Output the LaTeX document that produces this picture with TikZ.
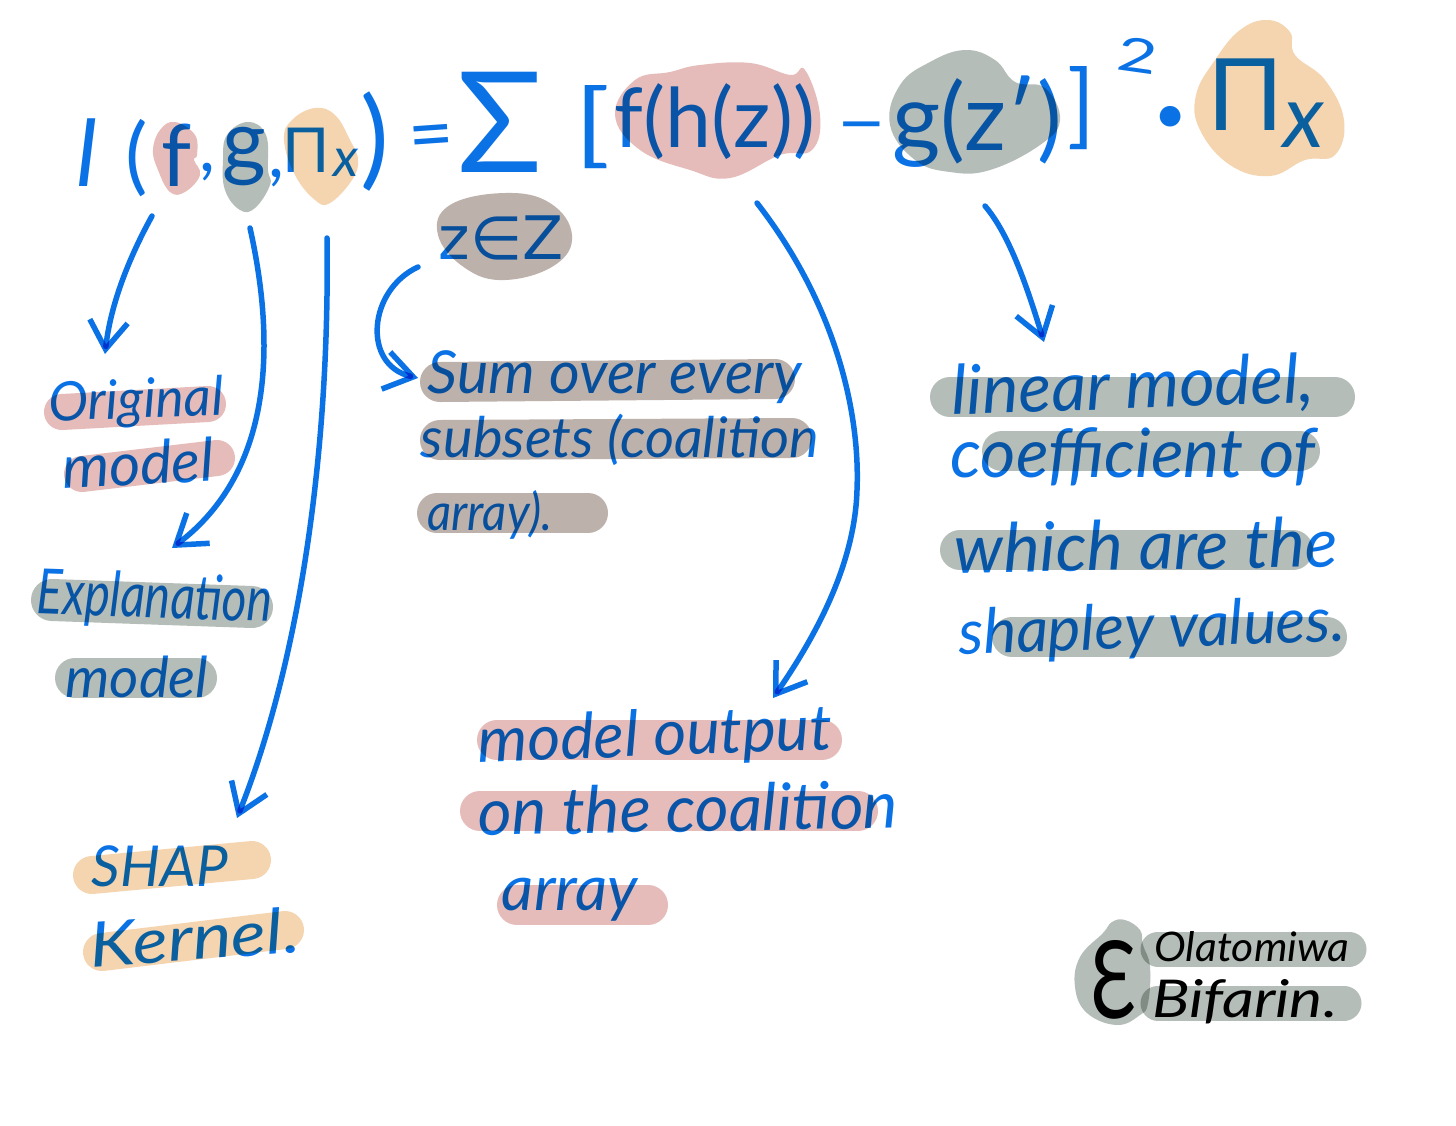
\documentclass[tikz,border=0pt]{standalone}
\usepackage{graphicx}
\usepackage{fontspec}
\setmainfont{Lato}
\newfontfamily\symf{DejaVu Sans}
\usetikzlibrary{arrows.meta}
\definecolor{ink}{HTML}{0B72E6}
\definecolor{pinkb}{HTML}{E6BCBA}
\definecolor{grayb}{HTML}{B5BDB8}
\definecolor{orab}{HTML}{F5D5B0}
\definecolor{taupeb}{HTML}{BDB1AC}
\newcommand\fitw[2]{\resizebox{#1pt}{!}{#2}}
\newcommand\fitwh[3]{\resizebox{#1pt}{#2pt}{#3}}
\newcommand\fs[1]{\fontsize{#1}{#1}\selectfont}
\tikzset{
  hand/.style={text=ink,inner sep=0pt,outer sep=0pt,font=\itshape},
  upr/.style={text=ink,inner sep=0pt,outer sep=0pt},
  sign/.style={text=black,inner sep=0pt,outer sep=0pt,font=\itshape},
  conn/.style={draw=ink,line width=5.5pt,line cap=round,line join=round,-{Straight Barb[length=28pt,width=38pt,line width=5.5pt]}},
  bar/.style={line width=#1,line cap=round},
  bar/.default=40pt
}
\begin{document}
\begin{tikzpicture}[x=1pt,y=-1pt]
\useasboundingbox (0,0) rectangle (1456,1125);
\fill[white] (0,0) rectangle (1456,1125);
% blobs
\fill[pinkb] plot[smooth cycle,tension=.7] coordinates {(175,122)(195,135)(197,155)(194,160)(200,175)(185,192)(170,192)(158,170)(153,150)(160,130)};
\fill[grayb] plot[smooth cycle,tension=.7] coordinates {(248,122)(266,135)(268,170)(270,185)(255,208)(240,210)(225,190)(223,160)(227,135)};
\fill[orab] plot[smooth cycle,tension=.7] coordinates {(315,108)(335,115)(350,140)(358,160)(352,180)(330,203)(315,200)(295,175)(284,140)(292,120)};
\fill[taupeb] plot[smooth cycle,tension=.7] coordinates {(505,193)(550,203)(572,235)(555,265)(505,280)(465,268)(438,235)(450,205)};
\fill[pinkb] plot[smooth cycle,tension=.7] coordinates {(700,65)(750,63)(790,75)(805,70)(820,115)(812,150)(780,155)(730,178)(690,170)(640,150)(615,115)(635,80)(670,72)};
\fill[grayb] plot[smooth cycle,tension=.7] coordinates {(965,50)(995,60)(1015,82)(1045,88)(1060,120)(1040,145)(990,170)(950,172)(915,160)(890,125)(900,85)(930,62)};
\fill[orab] plot[smooth cycle,tension=.7] coordinates {(1268,20)(1290,32)(1295,55)(1325,80)(1344,120)(1335,155)(1305,160)(1270,176)(1230,165)(1200,130)(1196,95)(1215,60)(1240,30)};
% highlight bars
\draw[pinkb,bar=36pt] (62,412)--(208,404);
\draw[pinkb,bar=36pt] (82,474)--(217,458);
\draw[grayb,bar=42pt] (52,600)--(252,607);
\draw[grayb,bar=40pt] (75,678)--(197,678);
\draw[orab,bar=38pt] (92,875)--(252,860);
\draw[orab,bar=38pt] (102,952)--(285,930);
\draw[taupeb,bar=40pt] (440,382)--(775,379);
\draw[taupeb,bar=40pt] (440,440)--(792,438);
\draw[taupeb,bar=40pt] (437,513)--(588,513);
\draw[grayb,bar=40pt] (950,397)--(1335,397);
\draw[grayb,bar=40pt] (1002,451)--(1300,451);
\draw[grayb,bar=40pt] (960,550)--(1293,550);
\draw[grayb,bar=40pt] (1012,637)--(1327,637);
\draw[pinkb,bar=40pt] (497,740)--(822,740);
\draw[pinkb,bar=40pt] (480,811)--(858,811);
\draw[pinkb,bar=40pt] (517,905)--(648,905);
% signature
\begin{scope}[blend mode=multiply]
\fill[grayb] plot[smooth cycle,tension=.7] coordinates {(1112,922)(1125,920)(1140,930)(1143,945)(1150,967)(1148,1003)(1140,1015)(1117,1025)(1087,1013)(1075,987)(1080,957)(1103,933)};
\draw[grayb,bar=35pt] (1158,949)--(1349,949);
\draw[grayb,bar=35pt] (1158,1003)--(1344,1003);
\end{scope}
\begin{scope}[blend mode=multiply]
% formula
\node[upr,font=\fs{92}] (ell) at (87,153) {\itshape l};
\node[upr,font=\fs{84}] (lp) at (137,158) {(};
\node[upr,font=\fs{86}] (fa) at (177,155) {f};
\node[upr,font=\fs{70}] (c1) at (207,172) {,};
\node[upr,font=\fs{84}] (ga) at (244,157) {g};
\node[upr,font=\fs{70}] (c2) at (276,178) {,};
\node[upr,font=\fs{62}] (pia) at (306,150) {Π};
\node[upr,font=\fs{54}] (xa) at (346,163) {\itshape x};
\node[upr,font=\fs{108}] (rp) at (375,142) {)};
\node[upr,font=\fs{78},rotate=4] (eq) at (432,143) {=};
\node[upr,font=\fs{140}] (sig) at (500,122) {Σ};
\node[upr] (lb) at (593,127) {\fitwh{36}{70}{[}};
\node[upr] (fh) at (715,122) {\fitw{200}{f(h(z))}};
\node[upr,font=\symf\fs{58}] (mn) at (862,132) {−};
\node[upr] (gz) at (977,122) {\fitw{170}{g(z′)}};
\node[upr] (rb) at (1081,108) {\fitwh{28}{70}{]}};
\node[upr,rotate=-8] (sq) at (1138,55) {\fitwh{40}{34}{2}};
\node[upr,font=\bfseries\fs{110}] (dt) at (1171,128) {·};
\node[upr,font=\fs{100}] (pib) at (1246,95) {Π};
\node[upr,font=\itshape\fs{88}] (xb) at (1304,125) {x};
\node[upr,font=\symf\fs{60}] (zz) at (501,238) {z∈Z};
% labels
\node[hand,rotate=2] (t1) at (136,403) {\fitwh{175}{40}{Original}};
\node[hand,rotate=3] (t2) at (138,463) {\fitw{152}{model}};
\node[hand,rotate=-2] (t3) at (155,600) {\fitwh{235}{46}{Explanation}};
\node[hand] (t4) at (137,677) {\fitw{143}{model}};
\node[hand] (t5) at (160,866) {\fitw{136}{SHAP}};
\node[hand,rotate=4] (t6) at (195,937) {\fitwh{210}{46}{Kernel.}};
\node[hand] (t7) at (615,377) {\fitw{374}{Sum over every}};
\node[hand] (t8) at (620,440) {\fitw{398}{subsets (coalition}};
\node[hand] (t9) at (490,515) {\fitwh{125}{40}{array).}};
\node[hand,rotate=2] (t10) at (1133,388) {\fitw{363}{linear model,}};
\node[hand] (t11) at (1133,457) {\fitw{365}{coefficient of}};
\node[hand,rotate=1] (t12) at (1146,545) {\fitw{383}{which are the}};
\node[hand,rotate=2] (t13) at (1152,630) {\fitw{387}{shapley values.}};
\node[hand,rotate=2] (t14) at (655,738) {\fitw{354}{model output}};
\node[hand,rotate=1] (t15) at (688,808) {\fitw{420}{on the coalition}};
\node[hand] (t16) at (570,900) {\fitw{136}{array}};
% connectors
\coordinate (s1) at (152,216); \coordinate (e1) at (105,354);
\coordinate (s2) at (250,228); \coordinate (e2) at (172,548);
\coordinate (s3) at (327,238); \coordinate (e3) at (237,818);
\coordinate (s4) at (418,267); \coordinate (e4) at (418,378);
\coordinate (s5) at (757,203); \coordinate (m5) at (857,490); \coordinate (e5) at (773,698);
\coordinate (s6) at (985,206); \coordinate (e6) at (1044,342);
\draw[conn] (s1) .. controls (125,265) and (110,310) .. (e1);
\draw[conn] (s2) .. controls (275,340) and (275,470) .. (e2);
\draw[conn] (s3) .. controls (330,450) and (300,660) .. (e3);
\draw[conn] (s4) .. controls (368,290) and (362,365) .. (e4);
\draw[conn] (s5) .. controls (840,310) and (860,420) .. (m5) .. controls (855,560) and (820,630) .. (e5);
\draw[conn] (s6) .. controls (1010,235) and (1028,290) .. (e6);
\end{scope}
\node[sign] (o1) at (1252,947) {\fitwh{195}{30}{Olatomiwa}};
\node[sign] (o2) at (1245,1002) {\fitwh{185}{38}{Bifarin.}};
\node[upr,text=black] (eps) at (1113,980) {\fitwh{46}{78}{Ɛ}};
\end{tikzpicture}
\end{document}
